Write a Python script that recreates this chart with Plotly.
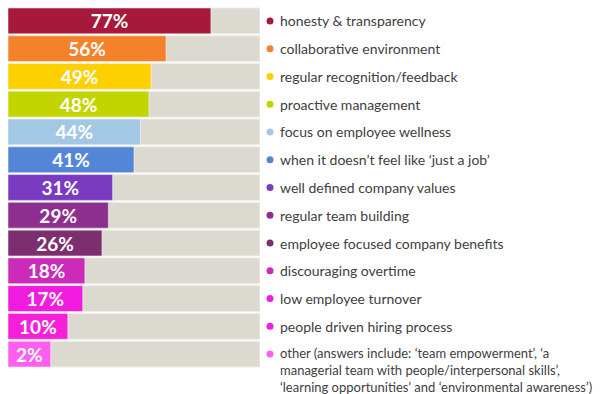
import plotly.graph_objects as go

categories = [
    "honesty & transparency",
    "collaborative environment",
    "regular recognition/feedback",
    "proactive management",
    "focus on employee wellness",
    "when it doesn\u2019t feel like \u2018just a job\u2019",
    "well defined company values",
    "regular team building",
    "employee focused company benefits",
    "discouraging overtime",
    "low employee turnover",
    "people driven hiring process",
    "other (answers include: \u2018team empowerment\u2019, \u2018a<br>"
    "managerial team with people/interpersonal skills\u2019,<br>"
    "\u2018learning opportunities\u2019 and \u2018environmental awareness\u2019)",
]
values = [77, 56, 49, 48, 44, 41, 31, 29, 26, 18, 17, 10, 2]
colors = ["#A6193A", "#F4822A", "#FFD000", "#C3D500", "#A3C8E4", "#5486D8",
          "#7A3BC2", "#8E2E8E", "#7D2E6E", "#CC2AB8", "#F21BE0", "#F51FD9", "#FF5EF0"]

BASE = -18
idx = list(range(len(values)))

fig = go.Figure()
fig.add_trace(go.Bar(
    x=[100 - BASE] * len(values), y=idx, base=BASE, orientation="h",
    marker=dict(color="#DCDAD0", line=dict(color="#EEEDE8", width=1)),
    hoverinfo="skip", showlegend=False,
))
fig.add_trace(go.Bar(
    x=[v - BASE for v in values], y=idx, base=BASE, orientation="h",
    marker=dict(color=colors, line=dict(color="rgba(255,255,255,0.5)", width=1)),
    text=[f"{v}%" for v in values], textposition="inside", insidetextanchor="middle",
    textfont=dict(family="Lato", size=19, color="white", weight="bold"),
    textangle=0, constraintext="none",
    hoverinfo="skip", showlegend=False,
))
fig.add_trace(go.Scatter(
    x=[10] * len(values), y=idx, xaxis="x2", mode="markers",
    marker=dict(color=colors, size=7), hoverinfo="skip", showlegend=False,
))

for i, c in enumerate(categories):
    multi = "<br>" in c
    fig.add_annotation(
        x=18, y=i, xref="x2", yref="y", text=c, showarrow=False,
        xanchor="left", yanchor="top" if multi else "middle", align="left",
        yshift=11 if multi else 0,
        font=dict(family="Lato", size=13 if multi else 14, color="#404040"),
    )

fig.update_layout(
    width=600, height=394,
    margin=dict(l=8, r=0, t=7, b=26),
    paper_bgcolor="white", plot_bgcolor="white",
    barmode="overlay", bargap=0.07,
    xaxis=dict(domain=[0, 252 / 592], range=[BASE, 100], visible=False, fixedrange=True),
    xaxis2=dict(domain=[252 / 592, 1], range=[0, 340], visible=False, anchor="y", fixedrange=True),
    yaxis=dict(range=[12.5, -0.5], visible=False, fixedrange=True),
)

fig.write_html("out.html", config={"displayModeBar": False},
               post_script="document.body.style.margin='0';")
